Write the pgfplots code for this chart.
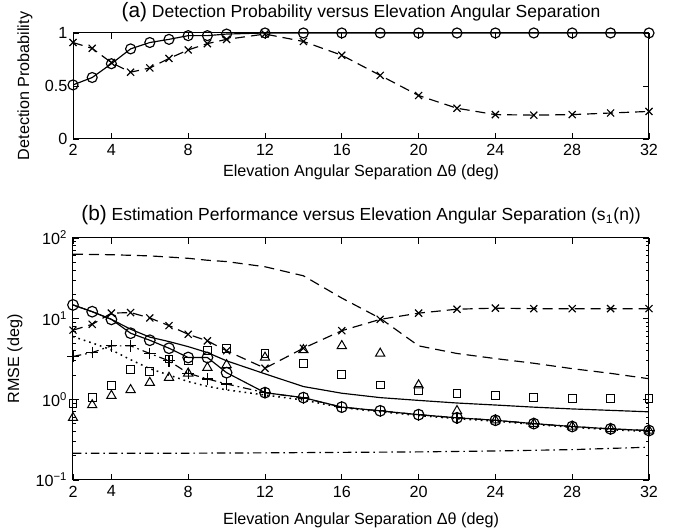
\documentclass[border=0pt]{standalone}
\usepackage{fontspec}
\setmainfont{Liberation Sans}
\usepackage{pgfplots}
\pgfplotsset{compat=1.18}
\begin{document}
\fontsize{9.7}{11.6}\selectfont
\begin{tikzpicture}
\path[use as bounding box] (0,0) rectangle (410.4pt,317.4pt);
\pgfplotsset{
  mat/.style={
    scale only axis, width=345.6pt,
    font=\fontsize{9.7}{11.6}\selectfont,
    /pgf/number format/assume math mode=true,
    tick align=inside, major tick length=3.5pt, minor tick length=2pt,
    xmin=2, xmax=32, xtick={2,4,8,12,16,20,24,28,32},
    axis line style={line width=0.6pt}, every tick/.style={line width=0.5pt,black},
    xticklabel style={yshift=0pt},
  },
  dsh/.style={dash pattern=on 6pt off 3.6pt},
  dshdot/.style={dash pattern=on 5pt off 2.4pt on 1pt off 2.4pt},
  dts/.style={dash pattern=on 1pt off 2.4pt, line width=0.9pt},
}
% ---------------- top axis
\begin{axis}[mat, at={(43.8pt,297.6pt)}, anchor=north west, height=63.6pt,
  ymin=0, ymax=1, ytick={0,0.5,1},
  title={{\fontsize{12.5}{14}\selectfont(a)} Detection Probability versus Elevation Angular Separation},
  title style={at={(axis description cs:0.5,1)}, anchor=center, yshift=6.6pt, font=\fontsize{10.5}{12.6}\selectfont},
  xlabel={Elevation Angular Separation Δθ (deg)},
  xlabel style={at={(axis description cs:0.5,0)}, anchor=center, yshift=-19.8pt},
  ylabel={Detection Probability},
  ylabel style={at={(axis description cs:-0.0833,0.5)}, anchor=center},
]
\addplot[black, line width=0.7pt, mark=o, mark size=3pt, mark options={solid}] coordinates {
(2,0.51)(3,0.58)(4,0.71)(5,0.85)(6,0.91)(7,0.94)(8,0.975)(9,0.975)(10,0.99)(12,1)(14,1)(16,1)(18,1)(20,1)(22,1)(24,1)(26,1)(28,1)(30,1)(32,1)};
\addplot[black, line width=0.7pt, dsh, mark=x, mark size=3pt, mark options={solid}] coordinates {
(2,0.91)(3,0.855)(4,0.72)(5,0.63)(6,0.67)(7,0.76)(8,0.84)(9,0.90)(10,0.94)(12,0.99)(14,0.92)(16,0.79)(18,0.60)(20,0.41)(22,0.29)(24,0.23)(26,0.225)(28,0.23)(30,0.245)(32,0.26)};
\end{axis}
% ---------------- bottom axis
\begin{axis}[mat, at={(43.8pt,174.6pt)}, anchor=north west, height=145.2pt,
  ymode=log, ymin=0.1, ymax=100, ytick={0.1,1,10,100},
  yticklabels={10\textsuperscript{−1},10\textsuperscript{0},10\textsuperscript{1},10\textsuperscript{2}},
  minor ytick={0.2,0.3,0.4,0.5,0.6,0.7,0.8,0.9,2,3,4,5,6,7,8,9,20,30,40,50,60,70,80,90},
  title={{\fontsize{12.5}{14}\selectfont(b)} Estimation Performance versus Elevation Angular Separation (s\textsubscript{1}(n))},
  title style={at={(axis description cs:0.5,1)}, anchor=center, yshift=7.8pt, font=\fontsize{10.5}{12.6}\selectfont},
  xlabel={Elevation Angular Separation Δθ (deg)},
  xlabel style={at={(axis description cs:0.5,0)}, anchor=center, yshift=-24pt},
  ylabel={RMSE (deg)},
  ylabel style={at={(axis description cs:-0.1007,0.5)}, anchor=center},
]
% dashed, no marks
\addplot[black, line width=0.7pt, dsh] coordinates {
(2,63)(3,62.5)(4,62)(5,61)(6,60)(7,58)(8,56)(9,53)(10,51)(12,44)(14,34)(16,18)(18,10.1)(20,4.6)(22,3.7)(24,3.2)(26,2.8)(28,2.4)(30,2.1)(32,1.8)};
% crosses dashed
\addplot[black, line width=0.7pt, dsh, mark=x, mark size=3pt, mark options={solid}] coordinates {
(2,7.2)(3,8.5)(4,11.7)(5,11.9)(6,10.2)(7,8.2)(8,6.4)(9,5.3)(10,4.0)(12,2.43)(14,4.3)(16,7.1)(18,9.8)(20,11.7)(22,13.1)(24,13.5)(26,13.3)(28,13.3)(30,13.3)(32,13.3)};
% solid, no marks
\addplot[black, line width=0.7pt] coordinates {
(2,14.8)(3,12.2)(4,9.8)(5,7.4)(6,5.9)(7,5.2)(8,4.5)(9,3.8)(10,3.0)(12,2.07)(14,1.44)(16,1.19)(18,1.05)(20,0.97)(22,0.9)(24,0.85)(26,0.8)(28,0.76)(30,0.73)(32,0.70)};
% circles solid
\addplot[black, line width=0.7pt, mark=o, mark size=3.2pt, mark options={solid}] coordinates {
(2,14.8)(3,12.2)(4,9.8)(5,6.6)(6,5.4)(7,4.3)(8,3.3)(9,3.3)(10,2.14)(12,1.21)(14,1.05)(16,0.80)(18,0.72)(20,0.645)(22,0.59)(24,0.55)(26,0.50)(28,0.46)(30,0.43)(32,0.41)};
% plus dash-dot
\addplot[black, line width=0.7pt, dshdot, mark=+, mark size=3.5pt, mark options={solid}] coordinates {
(2,3.4)(3,3.8)(4,4.6)(5,4.6)(6,3.7)(7,3.0)(8,2.1)(9,1.79)(10,1.55)(12,1.21)(14,1.04)(16,0.80)(18,0.72)(20,0.645)(22,0.59)(24,0.55)(26,0.50)(28,0.46)(30,0.43)(32,0.41)};
% dotted
\addplot[black, dts] coordinates {
(2,6.0)(3,5.0)(4,4.1)(5,3.1)(6,2.4)(7,2.0)(8,1.66)(9,1.45)(10,1.31)(12,1.13)(14,0.98)(16,0.79)(18,0.70)(20,0.63)(22,0.575)(24,0.535)(26,0.49)(28,0.45)(30,0.42)(32,0.40)};
% squares
\addplot[black, only marks, mark=square, mark size=2.3pt, line width=0.6pt] coordinates {
(2,0.88)(3,1.05)(4,1.48)(5,2.35)(6,2.2)(7,3.16)(8,3.0)(9,4.0)(10,4.3)(12,3.7)(14,2.8)(16,2.05)(18,1.5)(20,1.28)(22,1.19)(24,1.11)(26,1.06)(28,1.03)(30,1.02)(32,1.02)};
% triangles
\addplot[black, only marks, mark=triangle, mark size=3.2pt, line width=0.6pt] coordinates {
(2,0.59)(3,0.85)(4,1.11)(5,1.31)(6,1.61)(7,1.86)(8,2.1)(9,2.47)(10,2.67)(12,3.3)(14,4.1)(16,4.6)(18,3.7)(20,1.5)(22,0.72)(24,0.55)(26,0.50)(28,0.46)(30,0.43)(32,0.41)};
% dash-dot bottom
\addplot[black, line width=0.7pt, dshdot] coordinates {
(2,0.215)(4,0.215)(8,0.215)(12,0.217)(16,0.22)(20,0.223)(24,0.229)(28,0.238)(32,0.255)};
\end{axis}
\end{tikzpicture}
\end{document}
